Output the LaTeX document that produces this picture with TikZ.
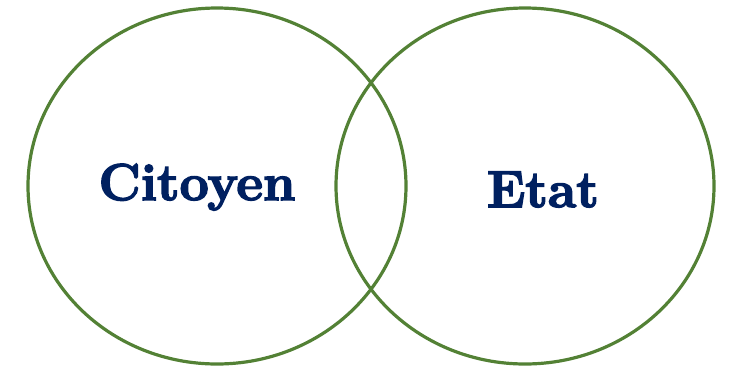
\documentclass[tikz,border=0pt]{standalone}
\usepackage{fontspec}
\usepackage{tikz}
\usetikzlibrary{positioning,calc}

\newfontfamily\heavyfont[BoldFeatures={FakeBold=3}]{Latin Modern Roman}

\definecolor{ringgreen}{RGB}{83,129,53}
\definecolor{textnavy}{RGB}{0,32,96}

\begin{document}
\begin{tikzpicture}[x=1bp,y=-1bp,
    ring/.style={draw=ringgreen,line width=3.2bp},
    word/.style={text=textnavy,font=\fontsize{52}{60}\heavyfont\bfseries,anchor=base,inner sep=0pt}]

      \useasboundingbox (0,0) rectangle (730,368);

      \draw[ring] (217,186) ellipse (189 and 178);
      \draw[ring] (525,186) ellipse (189 and 178);

      \node[word] (citoyen) at (197,200) {Citoyen};
      \node[word] (etat)    at (543,207) {Etat};

\end{tikzpicture}
\end{document}
